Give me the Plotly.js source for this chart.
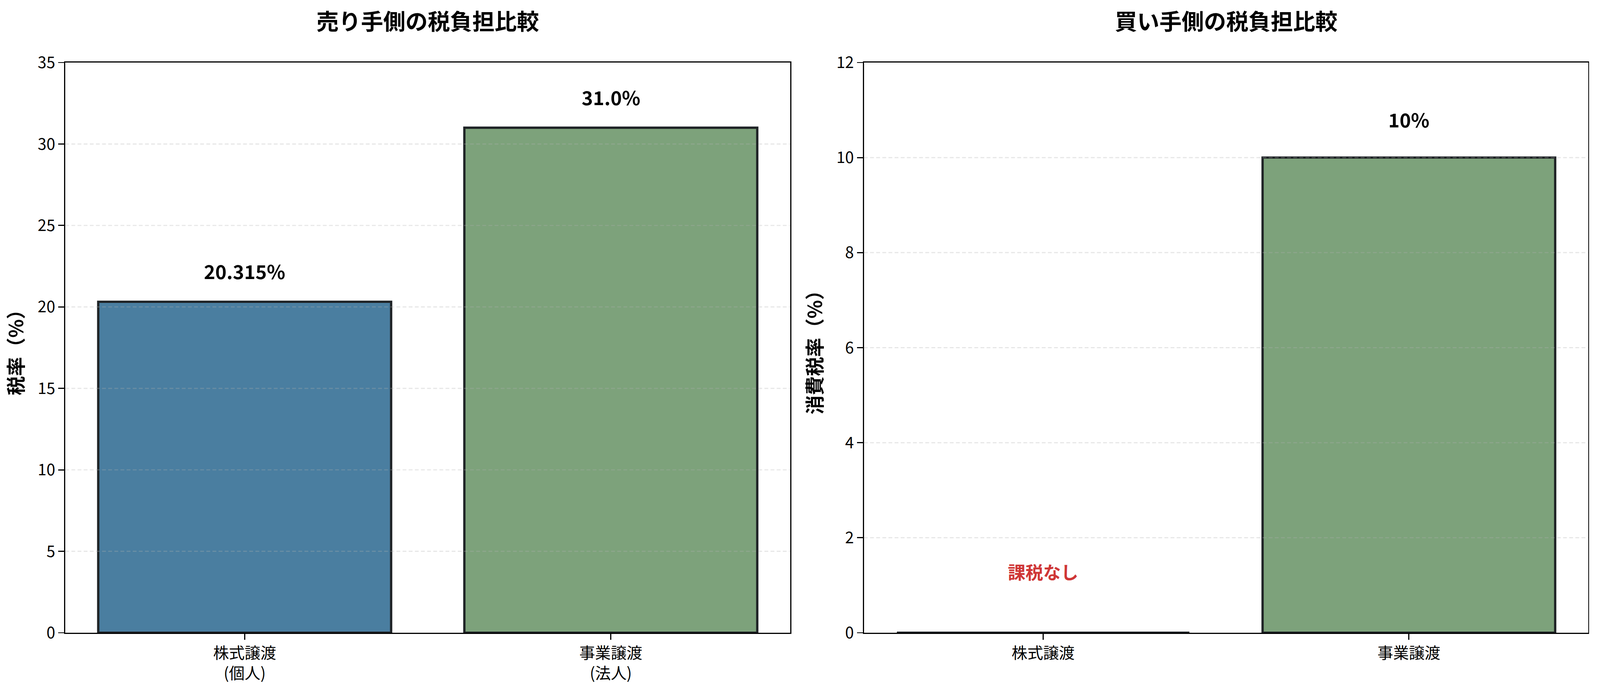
<!DOCTYPE html>
<html>
<head>
<meta charset="utf-8">
<script src="https://cdn.plot.ly/plotly-3.0.1.min.js"></script>
<style>html,body{margin:0;padding:0;background:#fff;overflow:hidden;}#chart{width:100vw;height:100vh;}</style>
</head>
<body>
<div id="chart"></div>
<script>
// ---- data ----
const sellerCategories = ["株式譲渡<br>(個人)", "事業譲渡<br>(法人)"];
const sellerValues = [20.315, 31.0];
const sellerLabels = ["20.315%", "31.0%"];
const sellerColors = ["#4a7ea0", "#7da27b"];

const buyerCategories = ["株式譲渡", "事業譲渡"];
const buyerValues = [0, 10];
const buyerLabels = ["", "10%"];
const buyerColors = ["#4a7ea0", "#7da27b"];
const buyerNoTaxText = "課税なし";

const sellerTicks = [0, 5, 10, 15, 20, 25, 30, 35];
const buyerTicks = [0, 2, 4, 6, 8, 10, 12];

const sellerTitle = "売り手側の税負担比較";
const buyerTitle = "買い手側の税負担比較";
const sellerYTitle = "税率（%）";
const buyerYTitle = "消費税率（%）";

// ---- style ----
const FONT = "Noto Sans CJK JP, Noto Sans, sans-serif";
const REF_W = 4167, REF_H = 1768;
const W = window.innerWidth || REF_W, H = window.innerHeight || REF_H;
const s = Math.min(W / REF_W, H / REF_H);
const px = v => v * s;
const edge = {color: "#1f2326", width: px(6)};
const dom1 = [170 / REF_W, 2058 / REF_W];
const dom2 = [2250 / REF_W, 4136 / REF_W];
const ydom = [1 - 1619 / REF_H, 1 - 160 / REF_H];

const traces = [
  {type: "bar", x: sellerCategories, y: sellerValues, xaxis: "x", yaxis: "y",
   width: 0.8, marker: {color: sellerColors, line: edge}, hoverinfo: "skip", showlegend: false},
  {type: "bar", x: buyerCategories, y: buyerValues, xaxis: "x2", yaxis: "y2",
   width: 0.8, marker: {color: buyerColors, line: edge}, hoverinfo: "skip", showlegend: false}
];

function xAxis(domain, anchor) {
  return {domain: domain, anchor: anchor, type: "category", range: [-0.49, 1.49],
    showline: true, mirror: true, linecolor: "#000", linewidth: px(3),
    ticks: "outside", ticklen: px(15), tickwidth: px(3), tickcolor: "#000",
    showgrid: false, zeroline: false,
    tickfont: {family: FONT, size: px(41), color: "#000"}, fixedrange: true};
}
function yAxis(domain, anchor, ticks, title) {
  return {domain: domain, anchor: anchor, range: [ticks[0], ticks[ticks.length - 1]],
    tickmode: "array", tickvals: ticks, ticktext: ticks.map(String),
    showline: true, mirror: true, linecolor: "#000", linewidth: px(3),
    ticks: "outside", ticklen: px(15), tickwidth: px(3), tickcolor: "#000",
    showgrid: false, zeroline: false,
    tickfont: {family: FONT, size: px(41), color: "#000"},
    title: {text: "<b>" + title + "</b>", font: {family: FONT, size: px(50), color: "#000"}, standoff: px(22)},
    fixedrange: true};
}

const annotations = [];
// subplot titles
annotations.push({xref: "paper", yref: "paper", x: (dom1[0] + dom1[1]) / 2, y: 1 - 51 / REF_H,
  xanchor: "center", yanchor: "middle", showarrow: false,
  text: "<b>" + sellerTitle + "</b>", font: {family: FONT, size: px(58), color: "#000"}});
annotations.push({xref: "paper", yref: "paper", x: (dom2[0] + dom2[1]) / 2, y: 1 - 51 / REF_H,
  xanchor: "center", yanchor: "middle", showarrow: false,
  text: "<b>" + buyerTitle + "</b>", font: {family: FONT, size: px(58), color: "#000"}});
// value labels
sellerCategories.forEach((c, i) => {
  annotations.push({xref: "x", yref: "y", x: c, y: sellerValues[i] + 1, xanchor: "center", yanchor: "bottom",
    showarrow: false, text: "<b>" + sellerLabels[i] + "</b>", font: {family: FONT, size: px(50), color: "#000"}});
});
buyerCategories.forEach((c, i) => {
  if (buyerLabels[i]) {
    annotations.push({xref: "x2", yref: "y2", x: c, y: buyerValues[i] + 0.5, xanchor: "center", yanchor: "bottom",
      showarrow: false, text: "<b>" + buyerLabels[i] + "</b>", font: {family: FONT, size: px(50), color: "#000"}});
  }
});
annotations.push({xref: "x2", yref: "y2", x: buyerCategories[0], y: 1, xanchor: "center", yanchor: "bottom",
  showarrow: false, text: "<b>" + buyerNoTaxText + "</b>", font: {family: FONT, size: px(46), color: "#cf3636"}});

// dashed grid drawn above bars (semi-transparent, as in reference)
const shapes = [];
function gridShapes(ticks, xr, yr) {
  ticks.slice(1, -1).forEach(t => {
    shapes.push({type: "line", xref: xr + " domain", yref: yr, x0: 0, x1: 1, y0: t, y1: t, layer: "above",
      line: {color: "rgba(176,176,176,0.3)", width: px(3), dash: px(10).toFixed(1) + "px," + px(6).toFixed(1) + "px"}});
  });
}
gridShapes(sellerTicks, "x", "y");
gridShapes(buyerTicks, "x2", "y2");

const layout = {
  width: W, height: H, margin: {l: 0, r: 0, t: 0, b: 0},
  paper_bgcolor: "#fff", plot_bgcolor: "#fff",
  font: {family: FONT, color: "#000"},
  xaxis: xAxis(dom1, "y"),
  yaxis: yAxis(ydom, "x", sellerTicks, sellerYTitle),
  xaxis2: xAxis(dom2, "y2"),
  yaxis2: yAxis(ydom, "x2", buyerTicks, buyerYTitle),
  annotations: annotations, shapes: shapes, showlegend: false, bargap: 0.2
};

Plotly.newPlot("chart", traces, layout, {staticPlot: true, displayModeBar: false});
</script>
</body>
</html>
